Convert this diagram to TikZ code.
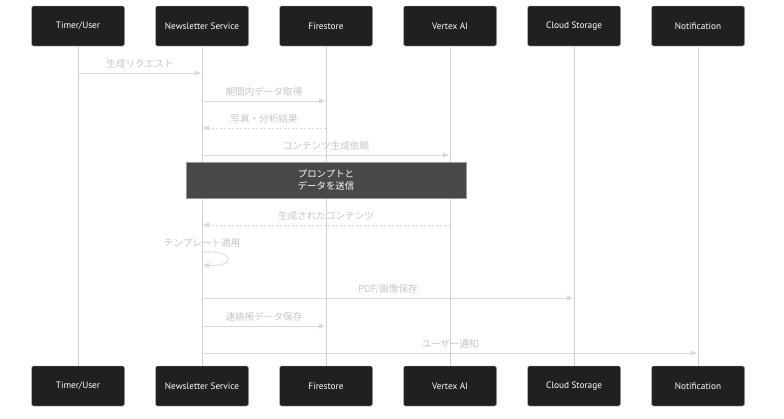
\documentclass[tikz,border=0pt]{standalone}
\usepackage{fontspec}
\setmainfont{Noto Sans CJK JP}
\newfontfamily\actfont{PT Sans}
\usetikzlibrary{arrows.meta}
\definecolor{actfill}{HTML}{1F2020}
\definecolor{actedge}{HTML}{BDBDBD}
\definecolor{lifecol}{HTML}{CFCFCF}
\definecolor{msgcol}{HTML}{DADADA}
\definecolor{lblcol}{HTML}{C4C4C4}
\definecolor{notefill}{HTML}{474948}
\definecolor{noteedge}{HTML}{9A9A9A}
\begin{document}
\begin{tikzpicture}[x=1pt,y=-1pt,
  actor/.style={draw=actedge, fill=actfill, text=white, rounded corners=1.5pt,
    minimum width=93pt, minimum height=40pt, inner sep=0pt,
    font=\actfont\fontsize{9.3}{10}\selectfont},
  life/.style={draw=lifecol, line width=1pt},
  msg/.style={draw=msgcol, line width=0.8pt, -{Triangle[length=6pt,width=5pt]}},
  reply/.style={msg, dash pattern=on 2pt off 2pt},
  lbl/.style={text=lblcol, inner sep=0pt, font=\fontsize{9.6}{10}\selectfont}]
\useasboundingbox (0,0) rectangle (784,418);

% participants, top row
\node[actor] (top0) at (78,26) {Timer/User};
\node[actor] (top1) at (202,26) {Newsletter Service};
\node[actor] (top2) at (326,26) {Firestore};
\node[actor] (top3) at (450,26) {Vertex AI};
\node[actor] (top4) at (574,26) {Cloud Storage};
\node[actor] (top5) at (698,26) {Notification};
% participants, bottom row
\node[actor] (bot0) at (78,386) {Timer/User};
\node[actor] (bot1) at (202,386) {Newsletter Service};
\node[actor] (bot2) at (326,386) {Firestore};
\node[actor] (bot3) at (450,386) {Vertex AI};
\node[actor] (bot4) at (574,386) {Cloud Storage};
\node[actor] (bot5) at (698,386) {Notification};

% lifelines
\draw[life] (top0) -- (bot0);
\draw[life] (top1) -- (bot1);
\draw[life] (top2) -- (bot2);
\draw[life] (top3) -- (bot3);
\draw[life] (top4) -- (bot4);
\draw[life] (top5) -- (bot5);

% messages
\coordinate (m1a) at (78,73);  \coordinate (m1b) at (201,73);
\draw[msg] (m1a) -- (m1b);
\node[lbl] (l1) at (140,63.5) {生成リクエスト};

\coordinate (m2a) at (202,101); \coordinate (m2b) at (325,101);
\draw[msg] (m2a) -- (m2b);
\node[lbl] (l2) at (264,91.5) {期間内データ取得};

\coordinate (m3a) at (326,128); \coordinate (m3b) at (203,128);
\draw[reply] (m3a) -- (m3b);
\node[lbl] (l3) at (264,118.5) {写真・分析結果};

\coordinate (m4a) at (202,155); \coordinate (m4b) at (449,155);
\draw[msg] (m4a) -- (m4b);
\node[lbl] (l4) at (326,145.5) {コンテンツ生成依頼};

% note
\node[draw=noteedge, fill=notefill, text=white, minimum width=280pt, minimum height=36pt,
  inner sep=0pt, align=center, font=\fontsize{9.4}{11.5}\selectfont] (note) at (326,180)
  {プロンプトと\\データを送信};

\coordinate (m5a) at (450,225); \coordinate (m5b) at (203,225);
\draw[reply] (m5a) -- (m5b);
\node[lbl] (l5) at (326,215.5) {生成されたコンテンツ};

% self call
\coordinate (m6a) at (202,252); \coordinate (m6b) at (203,265);
\draw[msg] (m6a) .. controls (236,250) and (236,267) .. (m6b);
\node[lbl] (l6) at (202,243) {テンプレート適用};

\coordinate (m7a) at (202,298); \coordinate (m7b) at (573,298);
\draw[msg] (m7a) -- (m7b);
\node[lbl] (l7) at (388,289.5) {PDF/画像保存};

\coordinate (m8a) at (202,326); \coordinate (m8b) at (325,326);
\draw[msg] (m8a) -- (m8b);
\node[lbl] (l8) at (264,316.5) {連絡帳データ保存};

\coordinate (m9a) at (202,353); \coordinate (m9b) at (697,353);
\draw[msg] (m9a) -- (m9b);
\node[lbl] (l9) at (450,344) {ユーザー通知};
\end{tikzpicture}
\end{document}
